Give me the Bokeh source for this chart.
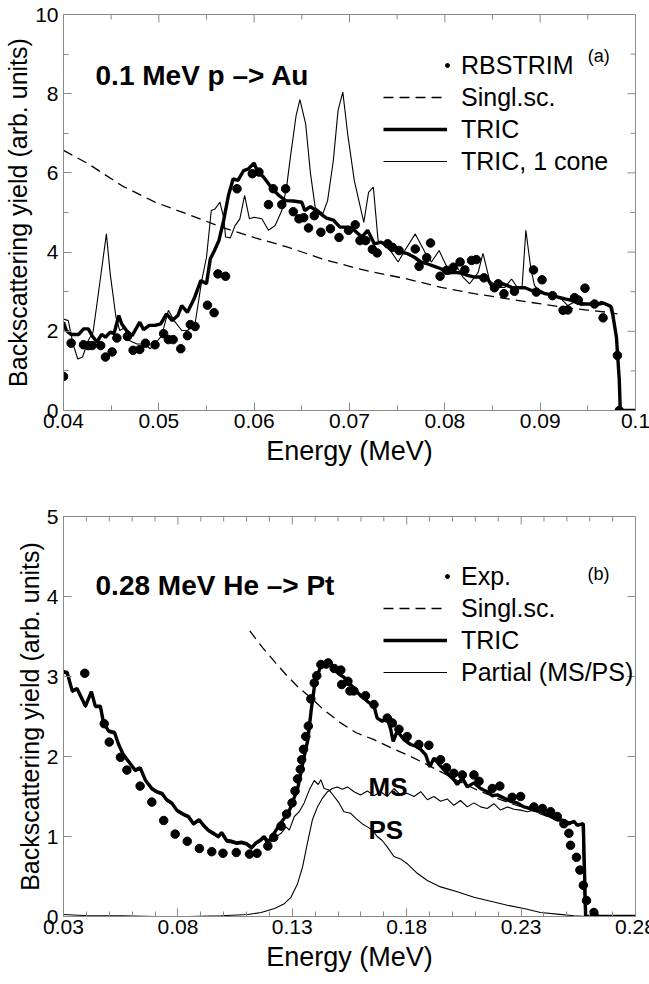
from bokeh.plotting import figure
from bokeh.models import FixedTicker, Range1d, Legend, LegendItem, Label, GlobalInlineStyleSheet
from bokeh.layouts import column
from bokeh.embed import file_html
from bokeh.resources import INLINE

# ---------------- Panel (a): 0.1 MeV p -> Au ----------------
A_EXP_E = [0.0400, 0.0408, 0.0421, 0.0426, 0.0430, 0.0439, 0.0444, 0.0451, 0.0456, 0.0467,
           0.0473, 0.0480, 0.0486, 0.0496, 0.0505, 0.0510, 0.0515, 0.0523, 0.0530, 0.0533,
           0.0538, 0.0551, 0.0558, 0.0562, 0.0570, 0.0582, 0.0598, 0.0605, 0.0615, 0.0620,
           0.0629, 0.0633, 0.0641, 0.0647, 0.0652, 0.0657, 0.0663, 0.0670, 0.0680, 0.0689,
           0.0699, 0.0706, 0.0711, 0.0717, 0.0724, 0.0729, 0.0740, 0.0745, 0.0752, 0.0769,
           0.0773, 0.0781, 0.0785, 0.0795, 0.0802, 0.0809, 0.0816, 0.0821, 0.0828, 0.0833,
           0.0841, 0.0852, 0.0856, 0.0862, 0.0873, 0.0893, 0.0896, 0.0902, 0.0913, 0.0924,
           0.0929, 0.0936, 0.0940, 0.0947, 0.0957, 0.0966, 0.0981, 0.0983]
A_EXP_Y = [0.86, 1.70, 1.66, 1.64, 1.64, 1.64, 1.35, 1.48, 1.83, 1.87,
           1.52, 1.54, 1.70, 1.66, 1.94, 1.79, 1.79, 1.56, 1.89, 2.17,
           2.12, 2.66, 2.47, 3.45, 3.39, 5.60, 5.98, 6.02, 5.20, 5.60,
           5.20, 5.60, 5.02, 4.84, 4.87, 4.61, 4.92, 4.50, 4.59, 4.37,
           4.55, 4.69, 4.29, 4.29, 4.07, 3.98, 4.21, 4.12, 4.04, 4.08,
           3.64, 3.86, 4.23, 3.39, 3.54, 3.62, 3.75, 3.55, 3.79, 3.81,
           3.35, 3.10, 3.20, 2.95, 3.01, 3.55, 2.99, 3.30, 2.90, 2.53,
           2.54, 2.85, 2.79, 3.09, 2.69, 2.34, 1.39, 0.00]

A_SS_E = [0.0400, 0.0426, 0.0461, 0.0496, 0.0531, 0.0566, 0.0601, 0.0636, 0.0671, 0.0706,
          0.0726, 0.0761, 0.0796, 0.0831, 0.0866, 0.0901, 0.0936, 0.0971, 0.0981]
A_SS_Y = [6.57, 6.23, 5.68, 5.26, 4.95, 4.63, 4.36, 4.12, 3.83, 3.60,
          3.49, 3.32, 3.11, 2.95, 2.82, 2.69, 2.57, 2.48, 2.44]

A_TRIC_E = [0.0400, 0.0403, 0.0408, 0.0416, 0.0421, 0.0426, 0.0430, 0.0435, 0.0440, 0.0444,
            0.0449, 0.0453, 0.0458, 0.0461, 0.0466, 0.0472, 0.0480, 0.0484, 0.0490, 0.0496,
            0.0502, 0.0508, 0.0514, 0.0520, 0.0524, 0.0530, 0.0537, 0.0544, 0.0550, 0.0554,
            0.0558, 0.0563, 0.0568, 0.0573, 0.0578, 0.0583, 0.0589, 0.0594, 0.0600, 0.0603,
            0.0610, 0.0619, 0.0626, 0.0633, 0.0641, 0.0650, 0.0653, 0.0659, 0.0667, 0.0676,
            0.0683, 0.0690, 0.0698, 0.0705, 0.0713, 0.0719, 0.0726, 0.0733, 0.0740, 0.0747,
            0.0754, 0.0761, 0.0768, 0.0775, 0.0782, 0.0789, 0.0796, 0.0803, 0.0810, 0.0817,
            0.0824, 0.0831, 0.0838, 0.0845, 0.0850, 0.0856, 0.0863, 0.0870, 0.0877, 0.0884,
            0.0891, 0.0898, 0.0905, 0.0912, 0.0919, 0.0926, 0.0933, 0.0940, 0.0947, 0.0953,
            0.0960, 0.0967, 0.0974, 0.0976, 0.0980, 0.0983, 0.0984, 0.1000]
A_TRIC_Y = [2.23, 2.02, 1.92, 1.92, 2.06, 2.06, 1.89, 1.73, 1.92, 1.85,
            1.98, 1.94, 2.40, 2.19, 2.02, 1.89, 2.23, 2.04, 2.15, 2.15,
            2.19, 2.44, 2.27, 2.40, 2.65, 2.48, 2.82, 3.28, 3.20, 3.83,
            4.02, 4.29, 4.80, 5.43, 5.85, 5.81, 6.06, 6.10, 6.25, 6.06,
            5.89, 5.60, 5.43, 5.30, 5.29, 5.26, 5.05, 5.15, 5.01, 4.86,
            4.81, 4.63, 4.63, 4.55, 4.38, 4.55, 4.21, 4.25, 4.17, 4.12,
            4.00, 3.96, 3.87, 3.75, 3.70, 3.64, 3.58, 3.47, 3.49, 3.47,
            3.41, 3.37, 3.37, 3.32, 3.11, 3.24, 3.18, 3.11, 3.10, 3.10,
            3.03, 3.03, 2.95, 2.92, 2.86, 2.82, 2.78, 2.71, 2.69, 2.69,
            2.68, 2.71, 2.63, 2.44, 1.85, 0.76, 0.00, 0.00]

A_CONE_E = [0.0400, 0.0405, 0.0410, 0.0415, 0.0420, 0.0426, 0.0431, 0.0437, 0.0445, 0.0449,
            0.0455, 0.0459, 0.0465, 0.0469, 0.0477, 0.0485, 0.0491, 0.0496, 0.0503, 0.0510,
            0.0516, 0.0524, 0.0530, 0.0538, 0.0545, 0.0550, 0.0555, 0.0559, 0.0564, 0.0568,
            0.0570, 0.0575, 0.0580, 0.0585, 0.0590, 0.0595, 0.0600, 0.0608, 0.0615, 0.0622,
            0.0629, 0.0634, 0.0638, 0.0644, 0.0648, 0.0654, 0.0659, 0.0664, 0.0672, 0.0677,
            0.0683, 0.0688, 0.0693, 0.0698, 0.0705, 0.0715, 0.0720, 0.0725, 0.0730, 0.0737,
            0.0744, 0.0751, 0.0758, 0.0769, 0.0779, 0.0786, 0.0794, 0.0803, 0.0812, 0.0819,
            0.0826, 0.0835, 0.0840, 0.0847, 0.0856, 0.0863, 0.0870, 0.0877, 0.0881, 0.0885,
            0.0890, 0.0894, 0.0901, 0.0908, 0.0915, 0.0922, 0.0929, 0.0936, 0.0943, 0.0950,
            0.0957, 0.0964, 0.0971, 0.0976, 0.0980, 0.0983, 0.0984]
A_CONE_Y = [2.31, 2.27, 1.68, 1.30, 1.35, 1.77, 1.98, 3.03, 4.46, 3.45,
            2.36, 2.02, 2.10, 1.77, 1.68, 1.68, 1.56, 1.68, 1.89, 2.53,
            2.27, 2.02, 2.02, 2.19, 3.28, 3.87, 5.05, 5.09, 5.26, 4.88,
            4.38, 4.36, 4.67, 4.84, 5.43, 4.84, 4.88, 4.84, 4.55, 4.67,
            5.05, 5.64, 6.40, 7.45, 7.85, 7.24, 6.00, 5.13, 4.97, 5.30,
            6.30, 7.58, 8.04, 7.00, 5.81, 4.75, 5.51, 5.64, 4.29, 4.17,
            4.00, 3.75, 4.04, 4.46, 4.00, 3.75, 4.04, 3.58, 3.66, 3.37,
            3.20, 3.49, 3.97, 3.28, 3.11, 3.11, 3.32, 3.07, 3.11, 4.55,
            3.62, 3.16, 2.95, 2.96, 2.93, 2.82, 2.65, 2.74, 2.65, 2.69,
            2.65, 2.76, 2.68, 2.61, 1.85, 0.76, 0.00]

A_XTICKS = [0.04, 0.05, 0.06, 0.07, 0.08, 0.09, 0.1]
A_XLABELS = ["0.04", "0.05", "0.06", "0.07", "0.08", "0.09", "0.1"]
A_XMINOR = [0.045, 0.055, 0.065, 0.075, 0.085, 0.095]
A_YTICKS = [0, 2, 4, 6, 8, 10]
A_YMINOR = [1, 3, 5, 7, 9]

# ---------------- Panel (b): 0.28 MeV He -> Pt ----------------
B_EXP_E = [0.0393, 0.0478, 0.0500, 0.0549, 0.0577, 0.0635, 0.0686, 0.0738, 0.0788, 0.0841,
           0.0894, 0.0948, 0.0997, 0.1055, 0.1113, 0.1146, 0.1193, 0.1219, 0.1251, 0.1275,
           0.1299, 0.1312, 0.1323, 0.1335, 0.1341, 0.1349, 0.1359, 0.1370, 0.1381, 0.1396,
           0.1407, 0.1425, 0.1457, 0.1483, 0.1512, 0.1516, 0.1543, 0.1552, 0.1569, 0.1620,
           0.1657, 0.1715, 0.1737, 0.1766, 0.1802, 0.1853, 0.1897, 0.1948, 0.1974, 0.2006,
           0.2043, 0.2094, 0.2116, 0.2174, 0.2207, 0.2261, 0.2298, 0.2356, 0.2393, 0.2429,
           0.2458, 0.2487, 0.2509, 0.2516, 0.2542, 0.2557, 0.2572, 0.2586, 0.2618, 0.2621]
B_EXP_Y = [3.04, 2.41, 2.18, 1.99, 1.83, 1.63, 1.43, 1.20, 1.03, 0.94,
           0.85, 0.81, 0.79, 0.80, 0.78, 0.79, 0.88, 0.99, 1.13, 1.28,
           1.42, 1.57, 1.72, 1.84, 1.96, 2.09, 2.25, 2.38, 2.72, 2.92,
           3.01, 3.15, 3.17, 3.10, 3.08, 2.90, 2.94, 2.82, 2.82, 2.76,
           2.65, 2.48, 2.42, 2.34, 2.25, 2.15, 2.14, 1.96, 1.86, 1.79,
           1.77, 1.77, 1.69, 1.60, 1.63, 1.49, 1.50, 1.37, 1.35, 1.31,
           1.25, 1.16, 1.04, 0.89, 0.74, 0.58, 0.39, 0.20, 0.05, 0.00]

B_SS_E = [0.1114, 0.1170, 0.1227, 0.1280, 0.1328, 0.1387, 0.1431, 0.1511, 0.1577, 0.1657,
          0.1730, 0.1802, 0.1875, 0.1948, 0.2021, 0.2094, 0.2152, 0.2210, 0.2269, 0.2327,
          0.2385, 0.2443, 0.2502, 0.2545]
B_SS_Y = [3.57, 3.36, 3.17, 3.00, 2.86, 2.72, 2.60, 2.42, 2.30, 2.21,
          2.11, 2.02, 1.92, 1.81, 1.70, 1.60, 1.53, 1.46, 1.40, 1.35,
          1.29, 1.24, 1.19, 1.16]

B_TRIC_E = [0.0300, 0.0316, 0.0338, 0.0359, 0.0396, 0.0422, 0.0439, 0.0461, 0.0475, 0.0497,
            0.0523, 0.0541, 0.0562, 0.0584, 0.0613, 0.0635, 0.0657, 0.0686, 0.0708, 0.0730,
            0.0751, 0.0773, 0.0795, 0.0817, 0.0846, 0.0868, 0.0893, 0.0912, 0.0933, 0.0955,
            0.0977, 0.0991, 0.1013, 0.1035, 0.1057, 0.1078, 0.1100, 0.1122, 0.1141, 0.1158,
            0.1177, 0.1194, 0.1216, 0.1238, 0.1260, 0.1282, 0.1303, 0.1325, 0.1346, 0.1368,
            0.1383, 0.1397, 0.1419, 0.1433, 0.1448, 0.1462, 0.1483, 0.1504, 0.1526, 0.1555,
            0.1598, 0.1628, 0.1657, 0.1671, 0.1693, 0.1715, 0.1730, 0.1741, 0.1759, 0.1788,
            0.1817, 0.1839, 0.1861, 0.1883, 0.1901, 0.1919, 0.1948, 0.1977, 0.2006, 0.2021,
            0.2043, 0.2065, 0.2094, 0.2123, 0.2152, 0.2174, 0.2196, 0.2225, 0.2254, 0.2283,
            0.2312, 0.2341, 0.2371, 0.2400, 0.2429, 0.2458, 0.2487, 0.2509, 0.2531, 0.2545,
            0.2572, 0.2582, 0.2800]
B_TRIC_Y = [3.06, 3.05, 2.82, 2.85, 2.63, 2.81, 2.63, 2.63, 2.42, 2.32,
            2.30, 2.15, 2.02, 1.94, 1.83, 1.86, 1.71, 1.60, 1.56, 1.54,
            1.46, 1.42, 1.33, 1.29, 1.25, 1.16, 1.21, 1.14, 1.08, 1.04,
            1.00, 1.05, 0.95, 0.94, 0.92, 0.93, 0.91, 0.86, 0.92, 0.95,
            1.00, 0.93, 1.02, 1.12, 1.21, 1.29, 1.44, 1.62, 1.92, 2.21,
            2.59, 2.88, 3.09, 3.17, 3.11, 3.17, 3.09, 3.03, 2.99, 2.90,
            2.76, 2.69, 2.63, 2.48, 2.44, 2.48, 2.34, 2.19, 2.32, 2.21,
            2.15, 2.13, 2.09, 2.02, 1.87, 1.98, 1.88, 1.79, 1.71, 1.65,
            1.73, 1.62, 1.67, 1.60, 1.56, 1.51, 1.52, 1.48, 1.44, 1.42,
            1.37, 1.35, 1.33, 1.29, 1.25, 1.21, 1.20, 1.16, 1.19, 1.14,
            1.16, 0.00, 0.00]

B_MS_E = [0.0300, 0.0410, 0.0555, 0.0700, 0.0744, 0.0845, 0.0990, 0.1106, 0.1164, 0.1222,
          0.1265, 0.1294, 0.1323, 0.1345, 0.1367, 0.1388, 0.1410, 0.1432, 0.1454, 0.1475,
          0.1497, 0.1519, 0.1541, 0.1570, 0.1598, 0.1628, 0.1657, 0.1686, 0.1715, 0.1744,
          0.1773, 0.1802, 0.1832, 0.1861, 0.1890, 0.1919, 0.1948, 0.1977, 0.2006, 0.2035,
          0.2065, 0.2094, 0.2123, 0.2152, 0.2181, 0.2210, 0.2240, 0.2269, 0.2298, 0.2327,
          0.2356, 0.2385, 0.2414, 0.2443, 0.2473, 0.2502, 0.2531, 0.2567, 0.2578, 0.2800]
B_MS_Y = [0.025, 0.01, 0.01, 0.0, -0.01, 0.0, 0.01, 0.025, 0.05, 0.10,
          0.16, 0.24, 0.41, 0.62, 0.93, 1.21, 1.37, 1.48, 1.56, 1.60,
          1.62, 1.59, 1.62, 1.56, 1.52, 1.57, 1.51, 1.56, 1.50, 1.60,
          1.52, 1.54, 1.50, 1.56, 1.46, 1.50, 1.44, 1.47, 1.39, 1.45,
          1.37, 1.42, 1.37, 1.35, 1.41, 1.33, 1.37, 1.34, 1.33, 1.31,
          1.33, 1.28, 1.25, 1.25, 1.21, 1.19, 1.17, 1.14, 0.00, 0.00]

B_PS_E = [0.0300, 0.0316, 0.0338, 0.0359, 0.0396, 0.0422, 0.0439, 0.0461, 0.0475, 0.0497,
          0.0523, 0.0541, 0.0562, 0.0584, 0.0613, 0.0635, 0.0657, 0.0686, 0.0708, 0.0730,
          0.0751, 0.0773, 0.0795, 0.0817, 0.0846, 0.0868, 0.0893, 0.0912, 0.0933, 0.0955,
          0.0977, 0.0991, 0.1013, 0.1035, 0.1057, 0.1078, 0.1100, 0.1122, 0.1141, 0.1158,
          0.1177, 0.1193, 0.1222, 0.1251, 0.1273, 0.1287, 0.1309, 0.1330, 0.1352, 0.1374,
          0.1396, 0.1413, 0.1425, 0.1439, 0.1461, 0.1483, 0.1504, 0.1526, 0.1555, 0.1580,
          0.1605, 0.1628, 0.1650, 0.1671, 0.1693, 0.1715, 0.1744, 0.1773, 0.1802, 0.1846,
          0.1890, 0.1948, 0.2021, 0.2094, 0.2167, 0.2240, 0.2312, 0.2385, 0.2458, 0.2531,
          0.2589, 0.2800]
B_PS_Y = [3.04, 3.03, 2.80, 2.83, 2.61, 2.79, 2.61, 2.61, 2.40, 2.30,
          2.28, 2.13, 2.00, 1.92, 1.81, 1.84, 1.69, 1.58, 1.54, 1.52,
          1.44, 1.40, 1.31, 1.27, 1.23, 1.14, 1.19, 1.12, 1.06, 1.02,
          0.98, 1.03, 0.93, 0.92, 0.90, 0.91, 0.89, 0.84, 0.90, 0.93,
          0.97, 0.89, 0.98, 1.04, 1.12, 1.08, 1.25, 1.31, 1.42, 1.58,
          1.70, 1.65, 1.71, 1.60, 1.58, 1.50, 1.42, 1.31, 1.29, 1.22,
          1.16, 1.12, 1.08, 1.00, 0.95, 0.87, 0.75, 0.72, 0.66, 0.54,
          0.45, 0.37, 0.31, 0.24, 0.19, 0.14, 0.10, 0.05, 0.03, 0.01,
          0.00, 0.00]

B_XTICKS = [0.03, 0.08, 0.13, 0.18, 0.23, 0.28]
B_XLABELS = ["0.03", "0.08", "0.13", "0.18", "0.23", "0.28"]
B_XMINOR = [0.04, 0.05, 0.06, 0.07, 0.09, 0.10, 0.11, 0.12, 0.14, 0.15, 0.16, 0.17,
            0.19, 0.20, 0.21, 0.22, 0.24, 0.25, 0.26, 0.27]
B_YTICKS = [0, 1, 2, 3, 4, 5]

FONT = "Liberation Sans"
GREY = "#8a8a8a"
XLABEL = "Energy (MeV)"
YLABEL = "Backscattering yield (arb. units)"
BORDER_L = 63
BORDER_R = 21          # room for half of the last x tick label (cut by the window, as in the original)
FRAME_W = 572
FIG_W = BORDER_L + FRAME_W + BORDER_R
MAJ_PX = 8
MIN_PX = 5
TICK_FONT = "21px"


def style_axis(ax):
    ax.axis_line_color = GREY
    ax.major_tick_line_color = GREY
    ax.minor_tick_line_color = GREY
    ax.major_tick_in = MAJ_PX
    ax.major_tick_out = 0
    ax.minor_tick_in = MIN_PX
    ax.minor_tick_out = 0
    ax.major_label_text_font = FONT
    ax.major_label_text_font_size = TICK_FONT
    ax.major_label_text_color = "black"
    ax.axis_label_text_font = FONT
    ax.axis_label_text_font_style = "normal"
    ax.axis_label_text_color = "black"


def mirror_ticks(p, xr, yr, xt, xm, yt, ym, frame_h):
    """Inward ticks on the top and right frame edges (tick lengths in pixels)."""
    dx = (xr[1] - xr[0]) / FRAME_W
    dy = (yr[1] - yr[0]) / frame_h
    for ticks, ln in ((xt, MAJ_PX), (xm, MIN_PX)):
        if ticks:
            p.segment(x0=ticks, y0=[yr[1]] * len(ticks), x1=ticks,
                      y1=[yr[1] - ln * dy] * len(ticks), line_color=GREY, line_width=1)
    for ticks, ln in ((yt, MAJ_PX), (ym, MIN_PX)):
        if ticks:
            p.segment(x0=[xr[1]] * len(ticks), y0=ticks, x1=[xr[1] - ln * dx] * len(ticks),
                      y1=ticks, line_color=GREY, line_width=1)


def make_panel(height, xr, yr, xt, xl, xm, yt, ym, top, bottom):
    p = figure(width=FIG_W, height=height, x_range=Range1d(*xr), y_range=Range1d(*yr),
               output_backend="svg", toolbar_location=None,
               min_border_left=BORDER_L, min_border_right=BORDER_R,
               min_border_top=top, min_border_bottom=bottom)
    p.xgrid.visible = False
    p.ygrid.visible = False
    p.outline_line_color = GREY
    xa = p.xaxis[0]
    xa.ticker = FixedTicker(ticks=xt, minor_ticks=xm)
    xa.major_label_overrides = {t: s for t, s in zip(xt, xl)}
    style_axis(xa)
    xa.axis_label = XLABEL
    xa.axis_label_text_font_size = "27px"
    xa.major_label_standoff = 3
    xa.axis_label_standoff = 5
    ya = p.yaxis[0]
    ya.ticker = FixedTicker(ticks=yt, minor_ticks=ym)
    style_axis(ya)
    ya.axis_label = YLABEL
    ya.axis_label_text_font_size = "25px"
    ya.major_label_standoff = 5
    ya.axis_label_standoff = 0
    mirror_ticks(p, xr, yr, xt, xm, yt, ym, height - top - bottom)
    return p


def make_legend(items, x, y, glyph_w=64, standoff=14):
    return Legend(items=items, location=(x, y), glyph_width=glyph_w, glyph_height=32,
                  label_height=32, label_standoff=standoff, spacing=0, padding=0, margin=0,
                  border_line_color=None, background_fill_alpha=0,
                  label_text_font=FONT, label_text_font_size="25px",
                  label_text_color="black")


# ---------- panel a ----------
pa = make_panel(500, (0.04, 0.1), (0, 10), A_XTICKS, A_XLABELS, A_XMINOR,
                A_YTICKS, A_YMINOR, 14, 90)
ra_ss = pa.line(A_SS_E, A_SS_Y, line_color="black", line_width=1.3, line_dash="10 6")
ra_cone = pa.line(A_CONE_E, A_CONE_Y, line_color="black", line_width=1.1)
ra_tric = pa.line(A_TRIC_E, A_TRIC_Y, line_color="black", line_width=3.4)
ra_exp = pa.scatter(A_EXP_E, A_EXP_Y, size=8.5, color="black")
pa.add_layout(make_legend([LegendItem(label="RBSTRIM", renderers=[ra_exp])],
                          379, 329, glyph_w=10, standoff=9))
pa.add_layout(make_legend([
    LegendItem(label="Singl.sc.", renderers=[ra_ss]),
    LegendItem(label="TRIC", renderers=[ra_tric]),
    LegendItem(label="TRIC, 1 cone", renderers=[ra_cone]),
], 320, 233))
pa.add_layout(Label(x=0.04336, y=8.46, text="0.1 MeV p \u2013> Au", text_font=FONT,
                    text_font_style="bold", text_font_size="28px", text_color="black",
                    text_baseline="alphabetic"))
pa.add_layout(Label(x=0.0950, y=8.95, text="(a)", text_font=FONT, text_color="black",
                    text_font_size="18px", text_baseline="middle"))

# ---------- panel b ----------
pb = make_panel(484, (0.03, 0.28), (0, 5), B_XTICKS, B_XLABELS, B_XMINOR,
                B_YTICKS, [], 16, 68)
rb_ss = pb.line(B_SS_E, B_SS_Y, line_color="black", line_width=1.3, line_dash="10 6")
rb_ms = pb.line(B_MS_E, B_MS_Y, line_color="black", line_width=1.1)
rb_ps = pb.line(B_PS_E, B_PS_Y, line_color="black", line_width=1.1)
rb_tric = pb.line(B_TRIC_E, B_TRIC_Y, line_color="black", line_width=3.4)
rb_exp = pb.scatter(B_EXP_E, B_EXP_Y, size=8.5, color="black")
pb.add_layout(make_legend([LegendItem(label="Exp.", renderers=[rb_exp])],
                          379, 324, glyph_w=10, standoff=9))
pb.add_layout(make_legend([
    LegendItem(label="Singl.sc.", renderers=[rb_ss]),
    LegendItem(label="TRIC", renderers=[rb_tric]),
    LegendItem(label="Partial (MS/PS)", renderers=[rb_ms]),
], 320, 228))
pb.add_layout(Label(x=0.044, y=4.14, text="0.28 MeV He \u2013> Pt", text_font=FONT,
                    text_font_style="bold", text_font_size="28px", text_color="black",
                    text_baseline="alphabetic"))
pb.add_layout(Label(x=0.259, y=4.28, text="(b)", text_font=FONT, text_color="black",
                    text_font_size="18px", text_baseline="middle"))
pb.add_layout(Label(x=0.1633, y=1.62, text="MS", text_font=FONT, text_color="black",
                    text_font_style="bold", text_font_size="26px",
                    text_baseline="alphabetic"))
pb.add_layout(Label(x=0.1633, y=1.08, text="PS", text_font=FONT, text_color="black",
                    text_font_style="bold", text_font_size="26px",
                    text_baseline="alphabetic"))

no_scroll = GlobalInlineStyleSheet(css="html, body { overflow: hidden; }")
layout = column(pa, pb, spacing=0, stylesheets=[no_scroll])
open("out.html", "w").write(file_html(layout, INLINE))
